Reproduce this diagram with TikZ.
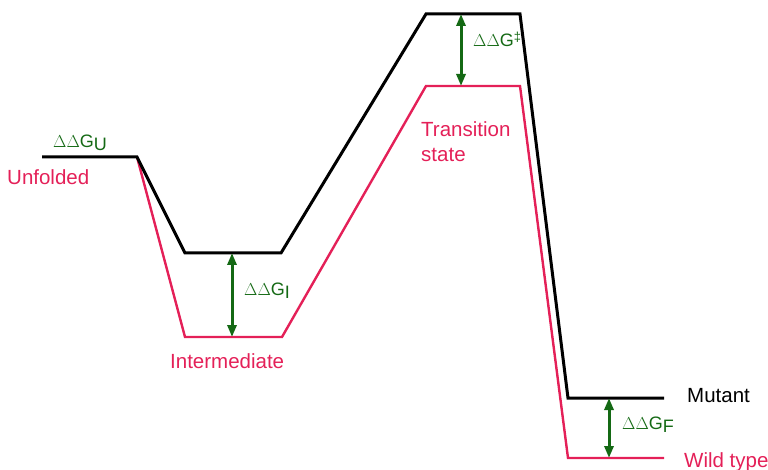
\documentclass[tikz,border=0pt]{standalone}
\usepackage{fontspec}
\setmainfont{Liberation Sans}
\usetikzlibrary{arrows.meta}
\definecolor{wtred}{RGB}{228,32,88}
\definecolor{dgreen}{RGB}{20,105,20}
\tikzset{
  mutline/.style={draw=black, line width=3pt, line join=miter},
  wtline/.style={draw=wtred, line width=2.4pt, line join=miter},
  ddg/.style={draw=dgreen, line width=3pt, {Triangle[length=12pt,width=9pt]}-{Triangle[length=12pt,width=9pt]}},
  lbl/.style={inner sep=0pt, font=\fontsize{20.5}{24}\selectfont},
  redlbl/.style={lbl, text=wtred},
  glbl/.style={inner sep=0pt, text=dgreen, font=\fontsize{18}{20}\selectfont}
}
\newcommand{\ddgsym}{{\fontsize{17}{18}\selectfont$\Delta\Delta$}G}
\begin{document}
\begin{tikzpicture}[x=1pt,y=-1pt]
\useasboundingbox (0,0) rectangle (768,470);
% coordinates
\coordinate (u0) at (42,157);
\coordinate (u1) at (137,157);
\coordinate (mi0) at (185,253);
\coordinate (mi1) at (281,253);
\coordinate (mt0) at (426,14);
\coordinate (mt1) at (520,14);
\coordinate (mf0) at (568,398);
\coordinate (mf1) at (664,398);
\coordinate (wi0) at (185,337);
\coordinate (wi1) at (282,337);
\coordinate (wt0) at (426,86);
\coordinate (wt1) at (520,86);
\coordinate (wf0) at (568,458);
\coordinate (wf1) at (664,458);
% wild type
\draw[wtline] (u1) -- (wi0) -- (wi1) -- (wt0) -- (wt1) -- (wf0) -- (wf1);
% mutant
\draw[mutline] (u0) -- (u1) -- (mi0) -- (mi1) -- (mt0) -- (mt1) -- (mf0) -- (mf1);
% arrows
\coordinate (ai0) at (232,253); \coordinate (ai1) at (232,337);
\coordinate (at0) at (461,14); \coordinate (at1) at (461,86);
\coordinate (af0) at (609,398); \coordinate (af1) at (609,458);
\draw[ddg] (ai0) -- (ai1);
\draw[ddg] (at0) -- (at1);
\draw[ddg] (af0) -- (af1);
% labels
\node[glbl, anchor=base west] (gu) at (53,148) {\ddgsym\raisebox{-3pt}{U}};
\node[redlbl, anchor=base west] (unf) at (7,185) {Unfolded};
\node[redlbl, anchor=base west] (int) at (170,368) {Intermediate};
\node[redlbl, anchor=base west] (ts1) at (421,137) {Transition};
\node[redlbl, anchor=base west] (ts2) at (421,162) {state};
\node[lbl, anchor=base west] (mut) at (687,402) {Mutant};
\node[redlbl, anchor=base west] (wt) at (684,467) {Wild type};
\node[glbl, anchor=base west] (gi) at (244,295) {\ddgsym\raisebox{-3pt}{I}};
\node[glbl, anchor=base west] (gt) at (473,47) {\ddgsym\raisebox{5pt}{\fontsize{13}{14}\selectfont ‡}};
\node[glbl, anchor=base west] (gf) at (622,429) {\ddgsym\raisebox{-3pt}{F}};
\end{tikzpicture}
\end{document}
